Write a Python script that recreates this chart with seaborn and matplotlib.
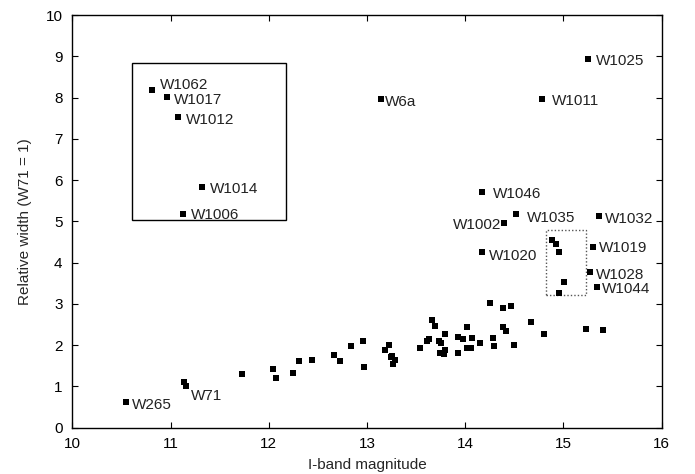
import matplotlib
matplotlib.use("Agg")
import matplotlib.pyplot as plt
from matplotlib.patches import Rectangle
import numpy as np
import pandas as pd
import seaborn as sns

sns.set_style("ticks")
plt.rcParams["font.family"] = ["Liberation Sans", "DejaVu Sans"]
plt.rcParams["font.size"] = 11

# labelled stars
names = ["W265", "W71", "W1062", "W1017", "W1012", "W1014", "W1006", "W6a",
         "W1025", "W1011", "W1046", "W1035", "W1002", "W1032", "W1020",
         "W1019", "W1028", "W1044"]
mag_lab = [10.55, 11.16, 10.81, 10.96, 11.08, 11.32, 11.13, 13.14,
           15.25, 14.78, 14.17, 14.52, 14.40, 15.36, 14.17,
           15.30, 15.27, 15.34]
width_lab = [0.61, 1.00, 8.18, 8.02, 7.54, 5.84, 5.19, 7.97,
             8.93, 7.96, 5.72, 5.17, 4.96, 5.12, 4.25,
             4.39, 3.78, 3.42]
# text offsets (points) for the labels
offs = [(4, -1), (3.5, -6), (5.5, 5), (5.5, -1), (5.5, -1), (5.5, -0.5), (5.5, 0), (3, -1),
        (6, 0), (7, 0), (8, -0.5), (8, -1.5), (-2, 0), (4.5, -1), (5, -1.5),
        (4.5, 0), (4, -1), (4, -1)]

# other stars
mag_other = [11.14, 11.73, 12.04, 12.07, 12.25, 12.31, 12.44, 12.66, 12.73, 12.84,
             12.96, 12.97, 13.18, 13.22, 13.26, 13.24, 13.29, 13.27, 13.54, 13.61,
             13.63, 13.66, 13.69, 13.73, 13.75, 13.79, 13.79, 13.74, 13.78, 13.93,
             13.93, 13.98, 14.02, 14.07, 14.02, 14.06, 14.15, 14.25, 14.39, 14.47,
             14.38, 14.42, 14.28, 14.29, 14.50, 14.67, 14.80, 15.23, 15.40,
             14.88, 14.92, 14.96, 15.01, 14.96]
width_other = [1.11, 1.29, 1.41, 1.19, 1.32, 1.61, 1.63, 1.76, 1.61, 1.97,
               2.09, 1.48, 1.89, 1.99, 1.74, 1.70, 1.63, 1.53, 1.92, 2.09,
               2.14, 2.62, 2.46, 2.11, 2.04, 2.26, 1.87, 1.81, 1.78, 2.19,
               1.81, 2.14, 2.43, 2.16, 1.94, 1.92, 2.04, 3.01, 2.91, 2.94,
               2.45, 2.33, 2.16, 1.97, 1.99, 2.55, 2.26, 2.38, 2.36,
               4.54, 4.44, 4.25, 3.54, 3.26]

df = pd.DataFrame({"mag": mag_lab + mag_other, "width": width_lab + width_other})

fig = plt.figure(figsize=(6.95, 4.74), dpi=100)
ax = fig.add_axes([0.104, 0.098, 0.848, 0.870])

sns.scatterplot(data=df, x="mag", y="width", marker="s", color="black",
                s=20, linewidth=0, ax=ax, zorder=3)

for n, x, y, (dx, dy) in zip(names, mag_lab, width_lab, offs):
    ha = "right" if dx < 0 else "left"
    ax.annotate(n, (x, y), xytext=(dx, dy), textcoords="offset points",
                ha=ha, va="center_baseline", fontsize=11, color="#222222")

# boxes
ax.add_patch(Rectangle((10.61, 5.03), 12.18 - 10.61, 8.83 - 5.03,
                       fill=False, edgecolor="black", lw=1))
ax.add_patch(Rectangle((14.82, 3.22), 15.23 - 14.82, 4.79 - 3.22,
                       fill=False, edgecolor="#555555", lw=1, ls=(0, (1, 1.5))))

ax.set_xlim(10, 16)
ax.set_ylim(0, 10)
ax.set_xticks(np.arange(10, 17, 1))
ax.set_yticks(np.arange(0, 11, 1))
ax.tick_params(direction="in", top=True, right=True, length=4, width=0.8,
               pad=7, labelsize=11, colors="black")
for sp in ax.spines.values():
    sp.set_linewidth(1)
    sp.set_color("black")
ax.set_xlabel("I-band magnitude", fontsize=11, labelpad=5)
ax.set_ylabel("Relative width (W71 = 1)", fontsize=11, labelpad=10)

fig.savefig("out.png", dpi=100)
